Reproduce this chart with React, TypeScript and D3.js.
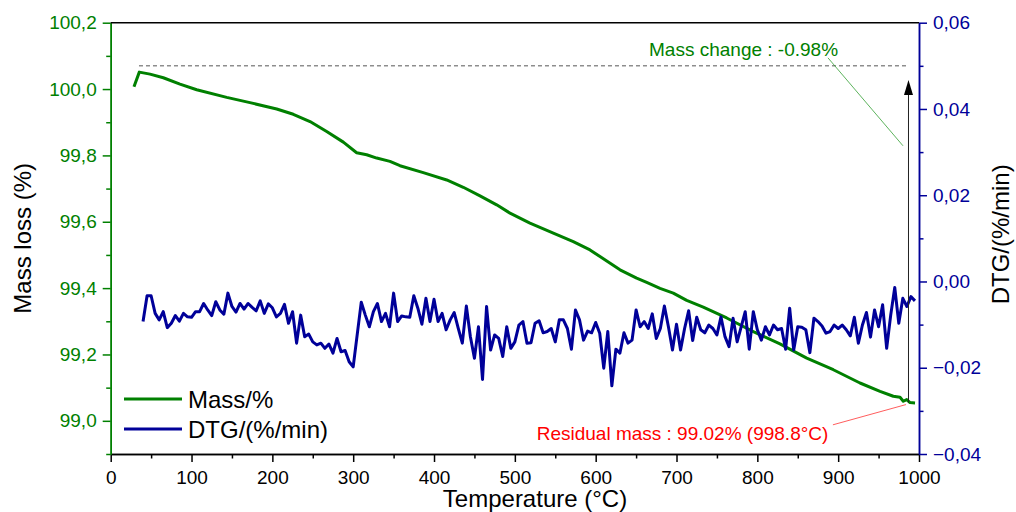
import { useEffect, useRef } from 'react'
import * as d3 from 'd3'

// mass curve, [temperature °C, mass %]
const massPoints: [number, number][] = [
  [28.8, 100.007], [35.4, 100.051], [48.6, 100.045], [65.1, 100.034], [85.7, 100.015],
  [106.4, 99.998], [143.5, 99.975], [172.3, 99.959], [205.4, 99.94], [225.9, 99.924],
  [246.6, 99.902], [267.2, 99.872], [287.8, 99.84], [304.3, 99.808], [316.7, 99.802],
  [329.1, 99.792], [345.5, 99.782], [357.9, 99.769], [386.7, 99.748], [415.7, 99.726],
  [436.2, 99.704], [456.9, 99.678], [477.5, 99.651], [494, 99.626], [518.7, 99.596],
  [547.6, 99.566], [572.3, 99.54], [593, 99.515], [605.3, 99.495], [630.1, 99.455],
  [650.7, 99.43], [663.1, 99.417], [679.6, 99.399], [696, 99.385], [712.6, 99.363],
  [733.1, 99.343], [762.1, 99.31], [795, 99.269], [828, 99.232], [861.1, 99.189],
  [894, 99.154], [927, 99.114], [951.8, 99.089], [968.2, 99.074], [976.5, 99.071],
  [980.6, 99.059], [984.8, 99.064], [988.9, 99.055], [995.1, 99.054],
]

// DTG curve, [temperature °C, %/min]
const dtgPoints: [number, number][] = [
  [40, -0.0093], [45, -0.0033], [50, -0.0033], [55, -0.0074], [60, -0.0089], [65, -0.007],
  [70, -0.0107], [75, -0.0097], [80, -0.0079], [85, -0.0092], [90, -0.0074], [95, -0.0082],
  [100, -0.0083], [105, -0.007], [110, -0.007], [115, -0.0051], [120, -0.0066], [125, -0.0079],
  [130, -0.0047], [135, -0.0066], [140, -0.0076], [145, -0.0027], [150, -0.0058], [155, -0.0071],
  [160, -0.0051], [165, -0.0064], [170, -0.0051], [175, -0.006], [180, -0.0068], [185, -0.0045],
  [190, -0.0074], [195, -0.0052], [200, -0.0061], [205, -0.0082], [210, -0.0074], [215, -0.0053],
  [220, -0.0097], [225, -0.007], [230, -0.0143], [235, -0.0078], [240, -0.0128], [245, -0.0122],
  [250, -0.014], [255, -0.0147], [260, -0.0143], [265, -0.0155], [270, -0.0145], [275, -0.0166],
  [280, -0.0132], [285, -0.0163], [290, -0.016], [295, -0.0186], [300, -0.0198], [310, -0.0048],
  [315, -0.0078], [320, -0.0105], [325, -0.007], [330, -0.0051], [335, -0.0093], [340, -0.0074],
  [345, -0.0105], [350, -0.0027], [355, -0.0093], [360, -0.008], [365, -0.0082], [370, -0.0083],
  [375, -0.0033], [380, -0.0062], [385, -0.0099], [390, -0.0039], [395, -0.0093], [400, -0.0041],
  [405, -0.0093], [410, -0.0074], [415, -0.0112], [420, -0.0089], [425, -0.0072], [430, -0.0109],
  [435, -0.0143], [440, -0.0057], [445, -0.0128], [450, -0.0178], [455, -0.0105], [460, -0.0227],
  [465, -0.0058], [470, -0.0159], [475, -0.0124], [480, -0.0132], [485, -0.0174], [490, -0.0105],
  [495, -0.0155], [500, -0.014], [505, -0.0101], [510, -0.0093], [515, -0.0143], [520, -0.0142],
  [525, -0.0097], [530, -0.0091], [535, -0.0119], [540, -0.0116], [545, -0.0109], [550, -0.014],
  [555, -0.0089], [560, -0.0089], [565, -0.0109], [570, -0.0157], [575, -0.0066], [580, -0.0089],
  [585, -0.0136], [590, -0.0115], [595, -0.0119], [600, -0.0095], [605, -0.012], [610, -0.0201],
  [615, -0.0116], [620, -0.0242], [625, -0.0157], [630, -0.0166], [635, -0.0119], [640, -0.0143],
  [645, -0.0136], [650, -0.0066], [655, -0.0105], [660, -0.0093], [665, -0.0109], [670, -0.0075],
  [675, -0.0132], [680, -0.0109], [685, -0.0057], [690, -0.0105], [695, -0.0159], [700, -0.0099],
  [705, -0.0159], [710, -0.0109], [715, -0.0068], [720, -0.0137], [725, -0.0083], [730, -0.0112],
  [735, -0.0119], [740, -0.0101], [745, -0.0109], [750, -0.0124], [755, -0.0082], [760, -0.0128],
  [765, -0.0151], [770, -0.0085], [775, -0.014], [780, -0.0105], [785, -0.007], [790, -0.0157],
  [795, -0.007], [800, -0.0112], [805, -0.0136], [810, -0.0105], [815, -0.0124], [820, -0.0101],
  [825, -0.0112], [830, -0.0109], [835, -0.0157], [840, -0.0062], [845, -0.0159], [850, -0.0105],
  [855, -0.0106], [860, -0.0112], [865, -0.0165], [870, -0.0085], [875, -0.0093], [880, -0.0103],
  [885, -0.012], [890, -0.0116], [895, -0.0101], [900, -0.0109], [905, -0.0101], [910, -0.0112],
  [915, -0.0126], [920, -0.0083], [925, -0.0143], [930, -0.0101], [935, -0.0072], [940, -0.0129],
  [945, -0.0066], [950, -0.0105], [955, -0.0054], [960, -0.0155], [965, -0.0078], [970, -0.0014],
  [975, -0.0097], [980, -0.0039], [985, -0.0058], [990, -0.0035], [995, -0.0045],
]

const xTicks = [0, 100, 200, 300, 400, 500, 600, 700, 800, 900, 1000]
const xMinor = [50, 150, 250, 350, 450, 550, 650, 750, 850, 950]
const massTicks = [99.0, 99.2, 99.4, 99.6, 99.8, 100.0, 100.2]
const massMinor = [98.9, 99.1, 99.3, 99.5, 99.7, 99.9, 100.1]
const dtgTicks = [-0.04, -0.02, 0.0, 0.02, 0.04, 0.06]
const dtgMinor = [-0.03, -0.01, 0.01, 0.03, 0.05]
const legendLabels = ['Mass/%', 'DTG/(%/min)']

const massChangeLabel = 'Mass change : -0.98%'
const residualLabel = 'Residual mass : 99.02% (998.8°C)'
const startMass = 100.07
const endMass = 99.055
const arrowTemp = 987

const GREEN = '#008000'
const BLUE = '#000099'
const FONT = '"Liberation Sans", Arial, sans-serif'

export default function App() {
  const ref = useRef<SVGSVGElement>(null)

  useEffect(() => {
    const svg = d3.select(ref.current)
    svg.selectAll('*').remove()

    const left = 110.7, right = 919, top = 22.7, bottom = 454

    const x = d3.scaleLinear().domain([0, 1000]).range([left, right])
    const yM = d3.scaleLinear().domain([98.9, 100.2]).range([bottom, top])
    const yD = d3.scaleLinear().domain([-0.04, 0.06]).range([bottom, top])

    const loc = d3.formatLocale({ decimal: ',', thousands: '.', grouping: [3], currency: ['', ''], minus: '\u2212' })
    const f1 = loc.format('.1f')
    const f2 = loc.format('.2f')

    // axes
    const styleAxis = (g: any, color: string) => {
      g.select('.domain').attr('stroke', color).attr('stroke-width', 1.5)
      g.selectAll('.tick line').attr('stroke', color).attr('stroke-width', 1.5)
      g.selectAll('text').attr('fill', color).attr('font-family', FONT).attr('font-size', 19)
    }

    const gx = svg.append('g').attr('transform', `translate(0,${bottom})`)
      .call(d3.axisBottom(x).tickValues(xTicks).tickSize(8).tickSizeOuter(0).tickPadding(8.5).tickFormat(d3.format('d') as any))
    styleAxis(gx, '#000')
    const gxm = svg.append('g').attr('transform', `translate(0,${bottom})`)
      .call(d3.axisBottom(x).tickValues(xMinor).tickSize(4.5).tickSizeOuter(0).tickFormat(() => ''))
    styleAxis(gxm, '#000')

    const gl = svg.append('g').attr('transform', `translate(${left},0)`)
      .call(d3.axisLeft(yM).tickValues(massTicks).tickSize(8).tickSizeOuter(0).tickPadding(6).tickFormat((d: any) => f1(d)))
    styleAxis(gl, GREEN)
    const glm = svg.append('g').attr('transform', `translate(${left},0)`)
      .call(d3.axisLeft(yM).tickValues(massMinor).tickSize(4.5).tickSizeOuter(0).tickFormat(() => ''))
    styleAxis(glm, GREEN)

    const gr = svg.append('g').attr('transform', `translate(${right},0)`)
      .call(d3.axisRight(yD).tickValues(dtgTicks).tickSize(8).tickSizeOuter(0).tickPadding(6).tickFormat((d: any) => f2(d)))
    styleAxis(gr, BLUE)
    const grm = svg.append('g').attr('transform', `translate(${right},0)`)
      .call(d3.axisRight(yD).tickValues(dtgMinor).tickSize(4.5).tickSizeOuter(0).tickFormat(() => ''))
    styleAxis(grm, BLUE)

    // top frame
    svg.append('line').attr('x1', left).attr('x2', right).attr('y1', top).attr('y2', top)
      .attr('stroke', '#000').attr('stroke-width', 1.5)

    // axis titles
    svg.append('text').text('Temperature (°C)')
      .attr('x', 535).attr('y', 507).attr('text-anchor', 'middle')
      .attr('font-family', FONT).attr('font-size', 24).attr('fill', '#000')
    svg.append('text').text('Mass loss (%)')
      .attr('transform', `translate(31,${(top + bottom) / 2}) rotate(-90)`).attr('text-anchor', 'middle')
      .attr('font-family', FONT).attr('font-size', 24).attr('fill', '#000')
    svg.append('text').text('DTG/(%/min)')
      .attr('transform', `translate(1009,${(top + bottom) / 2 - 4}) rotate(-90)`).attr('text-anchor', 'middle')
      .attr('font-family', FONT).attr('font-size', 24).attr('fill', '#000')

    // dashed reference line
    svg.append('line')
      .attr('x1', x(35)).attr('x2', x(arrowTemp)).attr('y1', yM(startMass)).attr('y2', yM(startMass))
      .attr('stroke', '#555').attr('stroke-width', 1).attr('stroke-dasharray', '4,3')

    // series
    const massLine = d3.line<[number, number]>().x(d => x(d[0])).y(d => yM(d[1]))
    const dtgLine = d3.line<[number, number]>().x(d => x(d[0])).y(d => yD(d[1]))
    svg.append('path').datum(massPoints).attr('d', massLine).attr('fill', 'none')
      .attr('stroke', GREEN).attr('stroke-width', 3).attr('stroke-linejoin', 'round')
    svg.append('path').datum(dtgPoints).attr('d', dtgLine).attr('fill', 'none')
      .attr('stroke', BLUE).attr('stroke-width', 3).attr('stroke-linejoin', 'round')

    // mass change arrow
    const ax = x(arrowTemp)
    const tipY = yM(100.027)
    svg.append('line').attr('x1', ax).attr('x2', ax).attr('y1', yM(endMass)).attr('y2', tipY + 12)
      .attr('stroke', '#222').attr('stroke-width', 1)
    svg.append('path')
      .attr('d', `M${ax},${tipY} L${ax - 4.5},${tipY + 15} L${ax + 4.5},${tipY + 15} Z`)
      .attr('fill', '#000')

    // annotations
    svg.append('line').attr('x1', x(887.4)).attr('y1', yM(100.094)).attr('x2', x(980.2)).attr('y2', yM(99.829))
      .attr('stroke', '#33a033').attr('stroke-width', 0.8)
    svg.append('text').text(massChangeLabel)
      .attr('x', x(666)).attr('y', yM(100.1)).attr('fill', GREEN)
      .attr('font-family', FONT).attr('font-size', 19)
    svg.append('line').attr('x1', x(893.5)).attr('y1', yM(98.988)).attr('x2', x(983.9)).attr('y2', yM(99.049))
      .attr('stroke', '#ff3333').attr('stroke-width', 0.8)
    svg.append('text').text(residualLabel)
      .attr('x', x(527)).attr('y', yM(98.943)).attr('fill', '#ff0000')
      .attr('font-family', FONT).attr('font-size', 19)

    // legend
    const colors = [GREEN, BLUE]
    legendLabels.forEach((label, i) => {
      const ly = 399 + i * 30
      svg.append('line').attr('x1', 124).attr('x2', 182).attr('y1', ly).attr('y2', ly)
        .attr('stroke', colors[i]).attr('stroke-width', 3)
      svg.append('text').text(label).attr('x', 188).attr('y', ly + 8.5)
        .attr('font-family', FONT).attr('font-size', 24).attr('fill', '#000')
    })
  }, [])

  return (
    <svg ref={ref} width={1016} height={512}
      style={{ position: 'absolute', left: 0, top: 0, background: '#fff' }} />
  )
}
